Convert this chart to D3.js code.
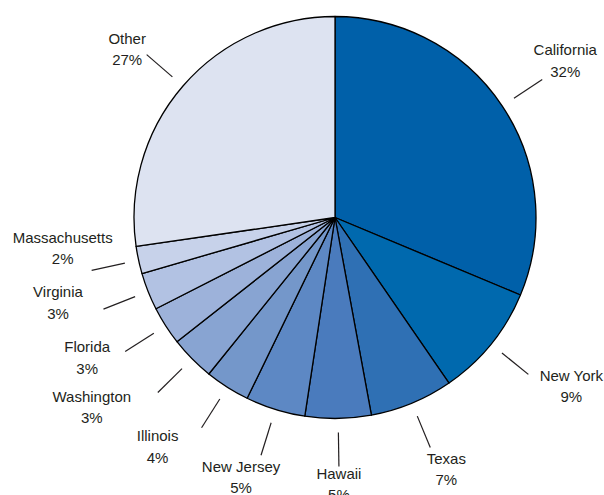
<!DOCTYPE html>
<html>
<head>
<meta charset="utf-8">
<script src="https://cdn.jsdelivr.net/npm/d3@7"></script>
<style>
  body { margin: 0; background: #fff; }
  svg text { font-family: "Liberation Sans", Arial, sans-serif; font-size: 15px; fill: #231f20; }
</style>
</head>
<body>
<div id="chart"></div>
<script>
// share of total (clockwise from 12 o'clock)
var states = ["California", "New York", "Texas", "Hawaii", "New Jersey", "Illinois",
              "Washington", "Florida", "Virginia", "Massachusetts", "Other"];
var shares = [31.3, 9.1, 6.7, 5.3, 4.8, 3.6, 3.6, 3.1, 3.0, 2.2, 27.3];
var pctLabels = ["32%", "9%", "7%", "5%", "5%", "4%", "3%", "3%", "3%", "2%", "27%"];

var colors = ["#0060a9", "#0069ae", "#2f70b4", "#4a7bbd", "#5d88c4", "#7497ca",
              "#88a4d2", "#9db2da", "#b2c2e3", "#c7d2ea", "#dde3f1"];

// label nudges relative to the outer end of each leader line
var labelNudge = [[23, -24], [43, 6.5], [16, 16], [0, 12.5], [-20, 16.5], [-44, 13.3],
                  [-66, 9.4], [-38, 0.8], [-45.5, -12], [-29, -27.7], [-19.5, -11]];

var width = 604, height = 495;
var cx = 335, cy = 217.5, radius = 201;

var svg = d3.select("#chart")
    .append("svg")
    .attr("width", width)
    .attr("height", height);

var g = svg.append("g")
    .attr("transform", "translate(" + cx + "," + cy + ")");

var color = d3.scaleOrdinal().domain(states).range(colors);

var pie = d3.pie()
    .sort(null)
    .value(function(d) { return d.value; });

var table = states.map(function(s, i) {
    return {name: s, value: shares[i], label: pctLabels[i], nudge: labelNudge[i]};
});

var arcs = pie(table);

var arc = d3.arc().innerRadius(0).outerRadius(radius);
var arcIn = d3.arc().innerRadius(radius + 14).outerRadius(radius + 14);
var arcOut = d3.arc().innerRadius(radius + 48).outerRadius(radius + 48);

g.selectAll(".slice")
    .data(arcs)
    .enter()
    .append("path")
    .attr("class", "slice")
    .attr("d", arc)
    .attr("fill", function(d) { return color(d.data.name); })
    .attr("stroke", "#000")
    .attr("stroke-width", 1.3)
    .attr("stroke-linejoin", "round");

g.selectAll(".leader")
    .data(arcs)
    .enter()
    .append("line")
    .attr("class", "leader")
    .attr("x1", function(d) { return arcIn.centroid(d)[0]; })
    .attr("y1", function(d) { return arcIn.centroid(d)[1]; })
    .attr("x2", function(d) { return arcOut.centroid(d)[0]; })
    .attr("y2", function(d) { return arcOut.centroid(d)[1]; })
    .attr("stroke", "#231f20")
    .attr("stroke-width", 1.2);

var lab = g.selectAll(".lab")
    .data(arcs)
    .enter()
    .append("text")
    .attr("class", "lab")
    .attr("text-anchor", "middle")
    .attr("transform", function(d) {
        var p = arcOut.centroid(d);
        return "translate(" + (p[0] + d.data.nudge[0]) + "," + (p[1] + d.data.nudge[1]) + ")";
    });

lab.append("tspan")
    .attr("x", 0)
    .attr("y", 0)
    .text(function(d) { return d.data.name; });

lab.append("tspan")
    .attr("x", 0)
    .attr("y", 21.5)
    .text(function(d) { return d.data.label; });
</script>
</body>
</html>
